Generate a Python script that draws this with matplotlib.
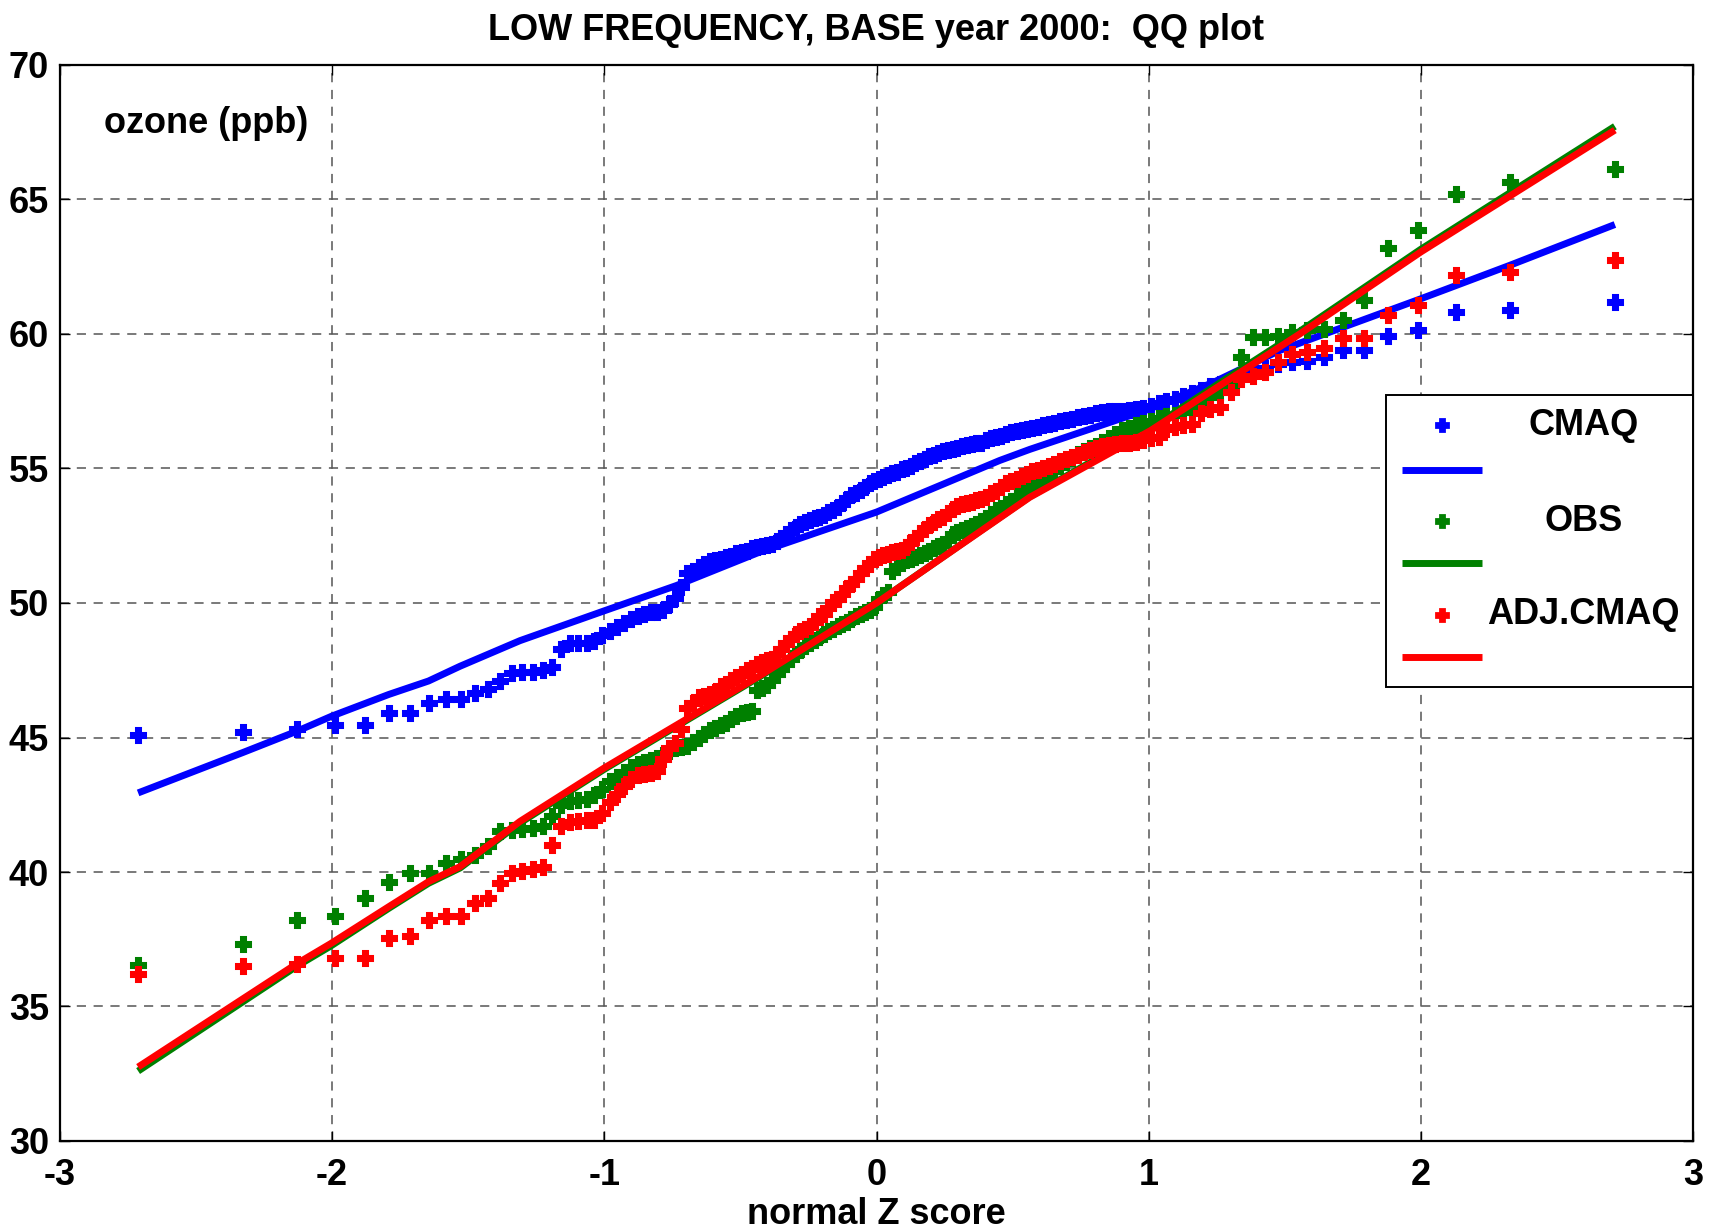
import matplotlib
matplotlib.use("Agg")
import matplotlib.pyplot as plt
from matplotlib.lines import Line2D
from matplotlib.patches import Rectangle
from statistics import NormalDist

plt.rcParams['font.family'] = ['Liberation Sans', 'DejaVu Sans']
plt.rcParams['font.weight'] = 'bold'

# ---------------- data (sorted ozone values, ppb) ----------------
cmaq = [45.09, 45.22, 45.30, 45.45, 45.47, 45.91, 45.91, 46.27, 46.42, 46.42,
        46.64, 46.79, 47.10, 47.39, 47.44, 47.44, 47.50, 47.62, 48.30, 48.50,
        48.53, 48.53, 48.60, 48.80, 48.95, 49.10, 49.25, 49.40, 49.50, 49.60,
        49.65, 49.65, 49.75, 49.95, 50.20, 50.60, 51.10, 51.20, 51.35, 51.45,
        51.55, 51.60, 51.65, 51.70, 51.75, 51.85, 51.90, 51.95, 52.05, 52.10,
        52.12, 52.15, 52.20, 52.30, 52.40, 52.55, 52.70, 52.82, 52.92, 53.00,
        53.07, 53.15, 53.20, 53.28, 53.38, 53.47, 53.58, 53.72, 53.88, 54.00,
        54.10, 54.20, 54.32, 54.45, 54.55, 54.62, 54.70, 54.76, 54.82, 54.88,
        54.97, 55.03, 55.10, 55.20, 55.27, 55.37, 55.45, 55.50, 55.58, 55.65,
        55.68, 55.72, 55.77, 55.82, 55.88, 55.92, 55.94, 55.96, 56.05, 56.12,
        56.18, 56.22, 56.30, 56.36, 56.39, 56.42, 56.46, 56.50, 56.55, 56.60,
        56.65, 56.70, 56.75, 56.80, 56.85, 56.90, 56.95, 57.00, 57.05, 57.10,
        57.12, 57.15, 57.15, 57.17, 57.20, 57.25, 57.32, 57.42, 57.50, 57.60,
        57.70, 57.80, 57.92, 58.05, 58.15, 58.30, 58.45, 58.60, 58.75, 58.89,
        58.95, 59.01, 59.14, 59.39, 59.39, 59.91, 60.15, 60.81, 60.88, 61.19]

obs = [36.53, 37.31, 38.21, 38.38, 39.04, 39.64, 39.95, 39.95, 40.32, 40.47,
       40.65, 40.95, 41.54, 41.57, 41.60, 41.65, 41.72, 42.10, 42.50, 42.65,
       42.69, 42.70, 42.85, 43.10, 43.40, 43.55, 43.70, 43.90, 44.00, 44.10,
       44.15, 44.22, 44.35, 44.50, 44.60, 44.65, 44.70, 44.85, 45.00, 45.12,
       45.28, 45.35, 45.45, 45.55, 45.70, 45.80, 45.90, 45.95, 46.00, 46.75,
       46.85, 46.95, 47.15, 47.35, 47.55, 47.75, 47.95, 48.10, 48.25, 48.40,
       48.53, 48.62, 48.72, 48.85, 48.95, 49.05, 49.14, 49.22, 49.30, 49.40,
       49.50, 49.58, 49.68, 49.75, 49.85, 50.15, 50.30, 50.40, 51.20, 51.35,
       51.50, 51.58, 51.63, 51.70, 51.78, 51.87, 51.95, 52.03, 52.12, 52.21,
       52.35, 52.55, 52.65, 52.72, 52.80, 52.86, 52.95, 53.04, 53.15, 53.30,
       53.44, 53.55, 53.67, 53.80, 53.98, 54.15, 54.22, 54.30, 54.40, 54.55,
       54.72, 54.90, 55.10, 55.25, 55.40, 55.55, 55.65, 55.75, 55.85, 56.00,
       56.15, 56.30, 56.42, 56.50, 56.60, 56.70, 56.78, 56.86, 56.94, 57.00,
       57.10, 57.25, 57.45, 57.65, 57.85, 58.10, 59.15, 59.88, 59.88, 59.92,
       60.06, 60.15, 60.19, 60.52, 61.25, 63.21, 63.88, 65.22, 65.66, 66.12]

adj_cmaq = [36.22, 36.49, 36.59, 36.80, 36.80, 37.56, 37.61, 38.23, 38.36, 38.38,
            38.83, 39.04, 39.58, 39.95, 40.05, 40.12, 40.20, 41.00, 41.70, 41.85,
            41.90, 41.94, 41.94, 42.20, 42.60, 42.90, 43.20, 43.45, 43.60, 43.65,
            43.68, 43.75, 44.20, 44.60, 44.80, 45.30, 46.10, 46.30, 46.50, 46.55,
            46.62, 46.70, 46.90, 47.00, 47.15, 47.25, 47.35, 47.50, 47.60, 47.72,
            47.80, 47.87, 47.93, 48.10, 48.30, 48.50, 48.65, 48.85, 48.95, 49.05,
            49.14, 49.30, 49.50, 49.60, 49.80, 50.05, 50.15, 50.35, 50.55, 50.70,
            50.90, 51.10, 51.30, 51.45, 51.65, 51.72, 51.78, 51.84, 51.88, 51.92,
            51.97, 52.10, 52.25, 52.42, 52.60, 52.75, 52.90, 53.02, 53.12, 53.19,
            53.35, 53.50, 53.62, 53.68, 53.73, 53.77, 53.82, 53.86, 53.95, 54.08,
            54.18, 54.30, 54.45, 54.55, 54.62, 54.72, 54.80, 54.90, 54.96, 55.02,
            55.10, 55.18, 55.27, 55.35, 55.43, 55.50, 55.60, 55.68, 55.76, 55.82,
            55.86, 55.90, 55.93, 55.96, 56.00, 56.07, 56.12, 56.16, 56.45, 56.55,
            56.62, 56.66, 57.05, 57.20, 57.28, 57.85, 58.33, 58.45, 58.58, 58.95,
            59.26, 59.32, 59.48, 59.85, 59.85, 60.69, 61.06, 62.18, 62.30, 62.76]

# reference lines (normal Z score knots, ozone ppb)
cmaq_line_z = [-2.713, -2.326, -2.128, -2.0, -1.792, -1.646, -1.53, -1.31, -1.0,
               -0.735, -0.43, 0.0, 0.453, 0.563, 1.0, 1.237, 1.482, 2.0, 2.326, 2.713]
cmaq_line_y = [42.94, 44.45, 45.24, 45.80, 46.60, 47.10, 47.65, 48.60, 49.71,
               50.65, 51.89, 53.38, 55.30, 55.71, 57.20, 58.20, 59.39, 61.31, 62.55, 64.07]

obs_line_z = [-2.713, -2.13, -2.005, -1.792, -1.646, -1.53, -1.31, -1.0, -0.43,
              0.0, 0.563, 1.007, 1.29, 1.555, 2.0, 2.713]
obs_line_y = [32.60, 36.50, 37.25, 38.65, 39.58, 40.15, 41.82, 43.82, 47.25,
              50.00, 53.95, 56.50, 58.37, 60.10, 63.15, 67.72]

adj_line_z = [-2.713, -2.13, -2.005, -1.792, -1.646, -1.53, -1.31, -1.0, -0.43,
              0.0, 0.563, 1.007, 1.29, 1.555, 2.0, 2.713]
adj_line_y = [32.75, 36.59, 37.34, 38.71, 39.64, 40.20, 41.88, 43.87, 47.29,
              50.00, 53.93, 56.41, 58.27, 60.00, 63.05, 67.58]

labels = ['CMAQ', 'OBS', 'ADJ.CMAQ']
colors = ['#0000ff', '#008000', '#ff0000']
xticks = [-3, -2, -1, 0, 1, 2, 3]
yticks = [30, 35, 40, 45, 50, 55, 60, 65, 70]

# normal scores of the plotting positions (i - 0.5) / n
n = len(cmaq)
zscore = [NormalDist().inv_cdf((i - 0.5) / n) for i in range(1, n + 1)]

FS = 26

# ---------------- figure ----------------
W, H = 1709, 1229
fig = plt.figure(figsize=(W / 100, H / 100), dpi=100)
ax = fig.add_axes([60 / W, 1 - 1141 / H, 1633 / W, 1076 / H])

series = [(cmaq, cmaq_line_z, cmaq_line_y),
          (obs, obs_line_z, obs_line_y),
          (adj_cmaq, adj_line_z, adj_line_y)]
for (vals, lz, ly), c in zip(series, colors):
    ax.plot(zscore, vals, linestyle='none', marker='P', markersize=10,
            markeredgewidth=2.2, markeredgecolor=c, color=c, zorder=3)
    ax.plot(lz, ly, color=c, linewidth=5, solid_capstyle='butt', zorder=3)

ax.set_xlim(-3, 3)
ax.set_ylim(30, 70)
ax.set_xticks(xticks)
ax.set_yticks(yticks)
ax.set_xticklabels([str(t) for t in xticks])
ax.set_yticklabels([str(t) for t in yticks])
ax.grid(True, color='#555555', linestyle=(0, (6, 5)), linewidth=1.1)
ax.tick_params(direction='in', top=True, right=True, length=7, width=1,
               labelsize=FS, pad=8)
ax.tick_params(axis='x', pad=12)
for sp in ax.spines.values():
    sp.set_linewidth(1.6)
    sp.set_color('black')

ax.set_title('LOW FREQUENCY, BASE year 2000:  QQ plot', fontsize=FS,
             fontweight='bold', pad=18)
ax.set_xlabel('normal Z score', fontsize=FS, fontweight='bold', labelpad=3)
ax.text(0.027, 0.946, 'ozone (ppb)', transform=ax.transAxes, fontsize=FS,
        fontweight='bold', va='center', ha='left')

# ---------------- legend box ----------------
ax.add_patch(Rectangle((0.812, 0.422), 0.188, 0.271, transform=ax.transAxes,
                       facecolor='white', edgecolor='black', linewidth=1.4,
                       zorder=5, clip_on=False))
row_marker = [0.665, 0.576, 0.489]
row_line = [0.624, 0.537, 0.450]
for lab, c, ym, yl in zip(labels, colors, row_marker, row_line):
    ax.add_line(Line2D([0.846], [ym], transform=ax.transAxes, marker='P',
                       markersize=9, markeredgewidth=2, markeredgecolor=c,
                       color=c, linestyle='none', zorder=6))
    ax.add_line(Line2D([0.822, 0.871], [yl, yl], transform=ax.transAxes,
                       color=c, linewidth=5, solid_capstyle='butt', zorder=6))
    ax.text(0.933, ym, lab, transform=ax.transAxes, fontsize=FS,
            fontweight='bold', ha='center', va='center', zorder=6)

fig.savefig('out.png', dpi=100)
